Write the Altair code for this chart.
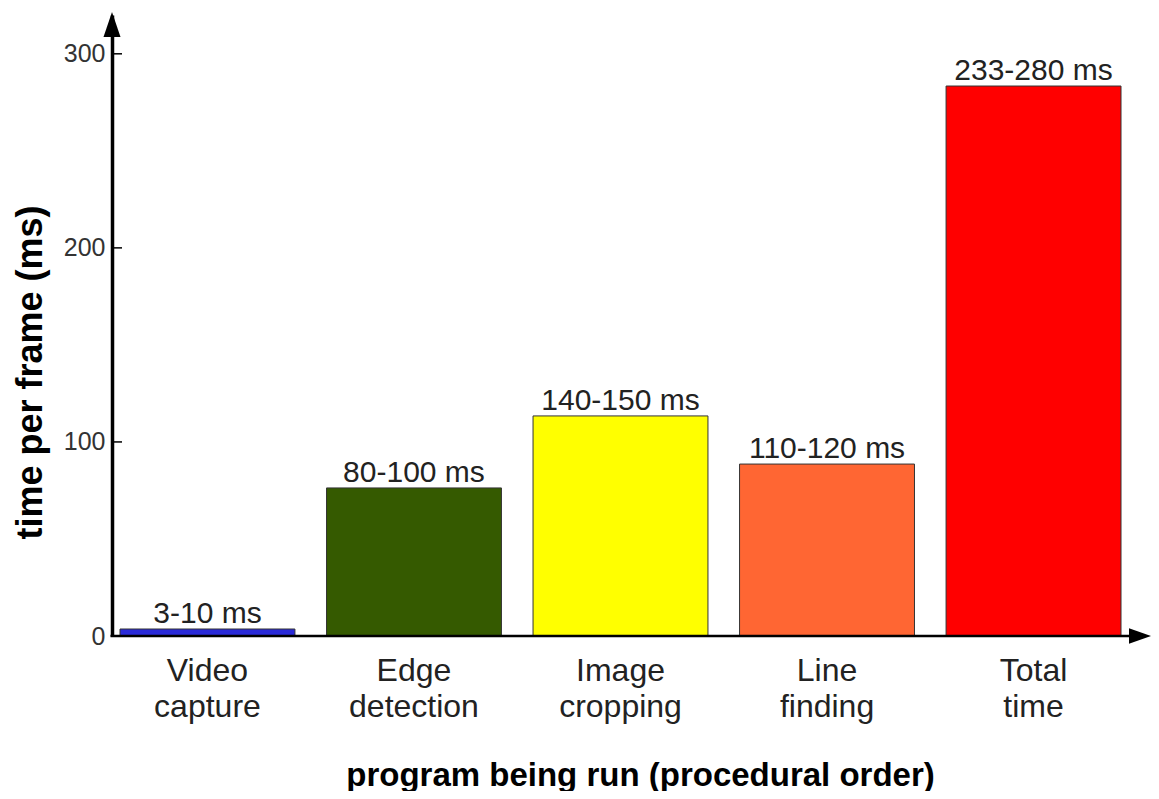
import altair as alt
import pandas as pd

categories = ["Video capture", "Edge detection", "Image cropping", "Line finding", "Total time"]
values = [3.6, 76.3, 113.4, 88.6, 283.4]
bar_labels = ["3-10 ms", "80-100 ms", "140-150 ms", "110-120 ms", "233-280 ms"]
colors = ["#2a2ad8", "#355a00", "#ffff00", "#ff6633", "#ff0000"]
tick_values = [0, 100, 200, 300]

df = pd.DataFrame({"cat": categories, "val": values, "lab": bar_labels, "col": colors})
ticks = pd.DataFrame({"t": tick_values})

FONT = "Liberation Sans"
W, H = 1039, 621

xscale = alt.Scale(domain=categories, range=[8, 1009], paddingInner=0.153, paddingOuter=0)
yscale = alt.Scale(domain=[0, 320], nice=False)

x_enc = alt.X("cat:N", scale=xscale, sort=categories,
              axis=alt.Axis(title="program being run (procedural order)",
                            labelAngle=0, labelFontSize=32, labelFont=FONT, labelColor="#222",
                            labelExpr="split(datum.label, ' ')", labelLineHeight=36,
                            labelPadding=19, ticks=False, domain=False,
                            titleFont=FONT, titleFontSize=33, titleFontWeight="bold",
                            titleColor="black", titleX=528, titleY=149, titleAlign="center",
                            titleBaseline="alphabetic"))
y_enc = alt.Y("val:Q", scale=yscale,
              axis=alt.Axis(title="time per frame (ms)", values=tick_values, ticks=False,
                            domain=True, domainColor="black", domainWidth=3.5, grid=False,
                            labelFont=FONT, labelFontSize=25, labelColor="#333", labelPadding=7,
                            titleFont=FONT, titleFontSize=36, titleFontWeight="bold", titleColor="black",
                            titleAngle=270, titleX=-82, titleY=357, titleAlign="center",
                            titleBaseline="middle"))

bars = alt.Chart(df).mark_bar(stroke="#333", strokeWidth=1).encode(
    x=x_enc, y=y_enc, color=alt.Color("col:N", scale=None))

texts = alt.Chart(df).mark_text(font=FONT, fontSize=30, color="#222", baseline="alphabetic", dy=-6).encode(
    x=alt.X("cat:N", scale=xscale, sort=categories), y=alt.Y("val:Q", scale=yscale), text="lab:N")

tick_rules = alt.Chart(ticks).mark_rule(color="black", strokeWidth=1.5).encode(
    y=alt.Y("t:Q", scale=yscale), x=alt.value(0), x2=alt.value(10))

y_arrow = alt.Chart(ticks.head(1)).mark_point(
    shape="M -0.68 1 L 0 -1 L 0.68 1 Z", size=625, filled=True, color="black", opacity=1).encode(
    x=alt.value(0), y=alt.value(9.5))

x_arrow = alt.Chart(ticks.head(1)).mark_point(
    shape="M -1 -0.7 L 1 0 L -1 0.7 Z", size=484, filled=True, color="black", opacity=1).encode(
    x=alt.value(W - 11), y=alt.value(H))

x_line = alt.Chart(ticks.head(1)).mark_rule(color="black", strokeWidth=2.5).encode(
    x=alt.value(-1.5), x2=alt.value(W - 12), y=alt.value(H))

chart = alt.layer(bars, texts, tick_rules, x_line, y_arrow, x_arrow).properties(
    width=W, height=H, autosize=alt.AutoSizeParams(type="none"),
    padding={"left": 104, "top": 7, "right": 0, "bottom": 155},
    background="white",
).configure_view(strokeWidth=0, stroke="transparent")

chart.save("out.html", embed_options={"renderer": "svg", "actions": False})
